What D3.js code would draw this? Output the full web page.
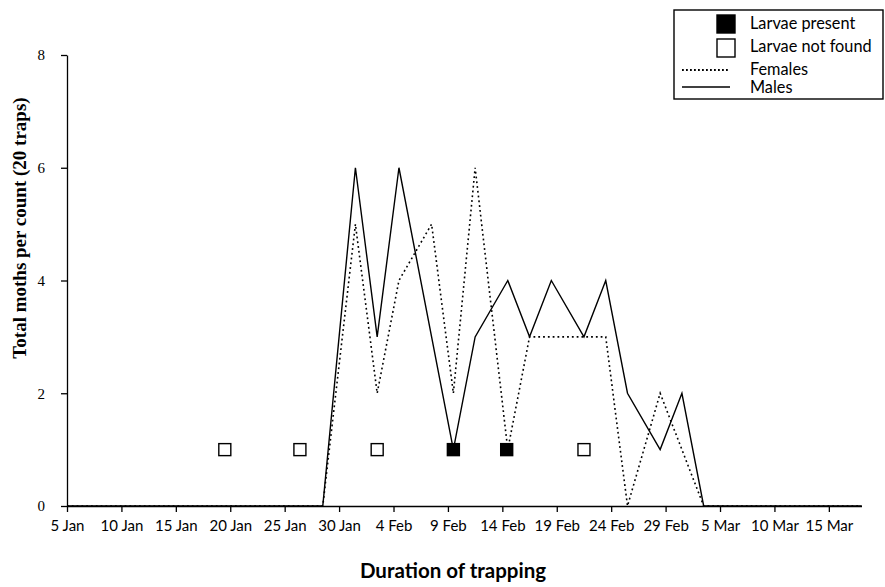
<!DOCTYPE html>
<html>
<head>
<meta charset="utf-8">
<script src="https://cdn.jsdelivr.net/npm/d3@7"></script>
<style>
  html, body { margin: 0; padding: 0; background: #fff; }
  svg { display: block; }
</style>
</head>
<body>
<svg id="chart" width="885" height="587"></svg>
<script>
// Trap counts, sampled in days after 5 January 2008
const sampleDays = [0, 23.5, 26.5, 28.5, 30.5, 33.5, 35.5, 37.5, 40.5, 42.5, 44.5, 47.5, 49.5, 51.5, 54.5, 56.5, 58.5, 73];
const males      = [0, 0,    6,    3,    6,    3,    1,    3,    4,    3,    4,    3,    4,    2,    1,    2,    0,    0];
const females    = [0, 0,    5,    2,    4,    5,    2,    6,    1,    3,    3,    3,    3,    0,    2,    1,    0,    0];

// Larval inspections (plotted at a count of 1)
const larvaeDays   = [14.5, 21.4, 28.5, 35.5, 40.4, 47.5];
const larvaeFound  = [false, false, false, true, true, false];
const larvaeLevel  = 1;

// Axis ticks
const xTickDays   = [0, 5, 10, 15, 20, 25, 30, 35, 40, 45, 50, 55, 60, 65, 70];
const xTickLabels = ["5 Jan", "10 Jan", "15 Jan", "20 Jan", "25 Jan", "30 Jan", "4 Feb", "9 Feb",
                     "14 Feb", "19 Feb", "24 Feb", "29 Feb", "5 Mar", "10 Mar", "15 Mar"];
const yTicks      = [0, 2, 4, 6, 8];

const legendItems = [
  { label: "Larvae present",   kind: "filled" },
  { label: "Larvae not found", kind: "open" },
  { label: "Females",          kind: "dotted" },
  { label: "Males",            kind: "solid" }
];

const sansFont  = "Lato, 'Open Sans', sans-serif";
const serifFont = "'Liberation Serif', 'DejaVu Serif', serif";

const svg = d3.select("#chart");

const x = d3.scaleLinear().domain([0, 73]).range([67, 861.5]);
const y = d3.scaleLinear().domain([0, 8]).range([506, 55]);

// Axes
const xAxis = d3.axisBottom(x)
  .tickValues(xTickDays)
  .tickFormat((d, i) => xTickLabels[i])
  .tickSize(6)
  .tickSizeOuter(0)
  .tickPadding(8);

const yAxis = d3.axisLeft(y)
  .tickValues(yTicks)
  .tickSize(6)
  .tickSizeOuter(0)
  .tickPadding(16);

const gx = svg.append("g").attr("transform", `translate(0,${y(0)})`).call(xAxis);
gx.selectAll("text").attr("font-family", sansFont).attr("font-size", 15).attr("fill", "#000");
gx.selectAll("line, path").attr("stroke", "#000").attr("stroke-width", 1.3);

const gy = svg.append("g").attr("transform", `translate(${x(0)},0)`).call(yAxis);
gy.selectAll("text").attr("font-family", serifFont).attr("font-size", 15).attr("fill", "#000");
gy.selectAll("line, path").attr("stroke", "#000").attr("stroke-width", 1.3);

// Axis titles
svg.append("text")
  .attr("x", 453).attr("y", 578)
  .attr("text-anchor", "middle")
  .attr("font-family", sansFont).attr("font-weight", "bold").attr("font-size", 20.5)
  .text("Duration of trapping");

svg.append("text")
  .attr("transform", "translate(26,228) rotate(-90)")
  .attr("text-anchor", "middle")
  .attr("font-family", serifFont).attr("font-weight", "bold").attr("font-size", 19)
  .text("Total moths per count (20 traps)");

// Series lines
const line = d3.line().x(d => x(d[0])).y(d => y(d[1]));

svg.append("path")
  .datum(sampleDays.map((d, i) => [d, females[i]]))
  .attr("d", line)
  .attr("fill", "none").attr("stroke", "#000")
  .attr("stroke-width", 1.6).attr("stroke-dasharray", "1.8,3");

svg.append("path")
  .datum(sampleDays.map((d, i) => [d, males[i]]))
  .attr("d", line)
  .attr("fill", "none").attr("stroke", "#000")
  .attr("stroke-width", 1.4);

// Larval inspection markers
const ms = 12;
svg.append("g").selectAll("rect")
  .data(larvaeDays.map((d, i) => ({ day: d, found: larvaeFound[i] })))
  .join("rect")
  .attr("x", d => x(d.day) - ms / 2)
  .attr("y", y(larvaeLevel) - ms / 2)
  .attr("width", ms).attr("height", ms)
  .attr("fill", d => d.found ? "#000" : "#fff")
  .attr("stroke", "#000").attr("stroke-width", 1.4);

// Legend
const lg = svg.append("g");
lg.append("rect")
  .attr("x", 674).attr("y", 10).attr("width", 209).attr("height", 89)
  .attr("fill", "#fff").attr("stroke", "#000").attr("stroke-width", 1.4);

const rowY = [24, 48, 70, 87];
const textY = [29, 52, 75, 93];
legendItems.forEach((item, i) => {
  if (item.kind === "filled" || item.kind === "open") {
    lg.append("rect")
      .attr("x", 717).attr("y", rowY[i] - 9).attr("width", 18).attr("height", 18)
      .attr("fill", item.kind === "filled" ? "#000" : "#fff")
      .attr("stroke", "#000").attr("stroke-width", 1.4);
  } else {
    lg.append("line")
      .attr("x1", 682).attr("x2", 730).attr("y1", rowY[i]).attr("y2", rowY[i])
      .attr("stroke", "#000").attr("stroke-width", item.kind === "dotted" ? 1.8 : 1.6)
      .attr("stroke-dasharray", item.kind === "dotted" ? "1.8,2.2" : null);
  }
  lg.append("text")
    .attr("x", 750).attr("y", textY[i])
    .attr("font-family", sansFont).attr("font-size", 16.3)
    .text(item.label);
});
</script>
</body>
</html>
